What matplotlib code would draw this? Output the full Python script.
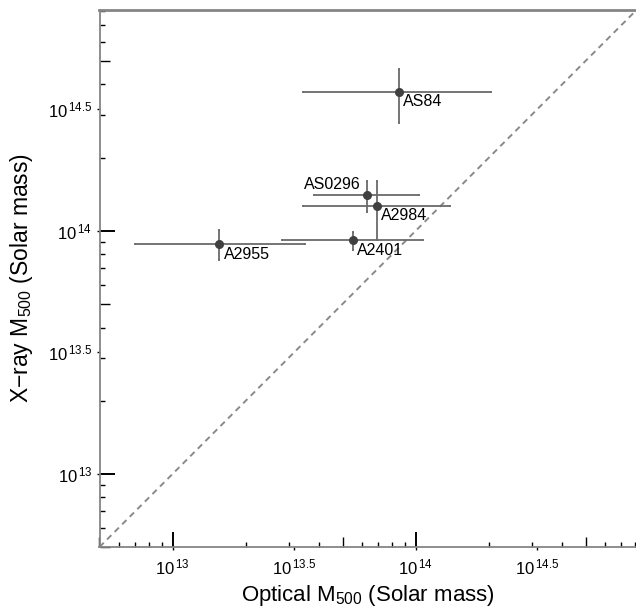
import numpy as np
import matplotlib
matplotlib.use('Agg')
import matplotlib.pyplot as plt
from matplotlib.ticker import FixedLocator, NullFormatter

plt.rcParams['font.family'] = 'Liberation Sans'
plt.rcParams['mathtext.fontset'] = 'custom'
plt.rcParams['mathtext.rm'] = 'Liberation Sans'
plt.rcParams['mathtext.it'] = 'Liberation Sans:italic'
plt.rcParams['mathtext.bf'] = 'Liberation Sans:bold'

# M500 estimates, in units of 1e14 solar masses
clusters = ['AS84', 'AS0296', 'A2984', 'A2401', 'A2955']
opt_m500 = np.array([0.85, 0.63, 0.69, 0.55, 0.155])
opt_low = np.array([0.345, 0.383, 0.344, 0.281, 0.0702])
opt_high = np.array([2.05, 1.035, 1.39, 1.076, 0.351])
xray_m500 = np.array([3.72, 1.40, 1.26, 0.914, 0.883])
xray_low = np.array([2.77, 1.20, 0.914, 0.837, 0.757])
xray_high = np.array([4.65, 1.60, 1.60, 0.986, 1.005])

# label placement: (dx, dy) offset in points, horizontal alignment
label_offsets = {'AS84': (3, -6.5, 'left'), 'AS0296': (-4.5, 7.5, 'right'),
                 'A2984': (3, -6.5, 'left'), 'A2401': (3.5, -7, 'left'),
                 'A2955': (3.5, -7.5, 'left')}

tick_vals = [1e13, 10**13.5, 1e14, 10**14.5]
tick_text = [r'$10^{\,13}$', r'$10^{\,13.5}$', r'$10^{\,14}$', r'$10^{\,14.5}$']
mass_lim = (5e12, 8.1e14)

x = opt_m500 * 1e14
y = xray_m500 * 1e14
xerr = np.vstack([x - opt_low * 1e14, opt_high * 1e14 - x])
yerr = np.vstack([y - xray_low * 1e14, xray_high * 1e14 - y])

fig = plt.figure(figsize=(6.36, 6.07), dpi=100)
ax = fig.add_axes([99.5 / 636, 60 / 607, 537 / 636, 537 / 607])
ax.set_xscale('log')
ax.set_yscale('log')
ax.set_xlim(*mass_lim)
ax.set_ylim(*mass_lim)

ax.axline((1e13, 1e13), (1e14, 1e14), color='#8a8a8a', lw=1.4,
          ls=(0, (3.1, 2.4)), zorder=1)

ax.errorbar(x, y, xerr=xerr, yerr=yerr, fmt='o', ms=5.5, color='#404040',
            ecolor='#6a6a6a', elinewidth=1.3, capsize=0.7, capthick=1.3,
            zorder=3)

for name, xi, yi in zip(clusters, x, y):
    dx, dy, ha = label_offsets[name]
    ax.annotate(name, (xi, yi), xytext=(dx, dy), textcoords='offset points',
                ha=ha, va='center', fontsize=11.5, color='black')

decades = 10.0 ** np.arange(12, 16)
fives = 5 * 10.0 ** np.arange(12, 15)
small = np.outer(10.0 ** np.arange(12, 15), [2, 3, 4, 6, 7, 8, 9]).ravel()

for axis in (ax.xaxis, ax.yaxis):
    axis.set_major_locator(FixedLocator(tick_vals))
    axis.set_ticklabels(tick_text)
    axis.set_minor_locator(FixedLocator(fives))
    axis.set_minor_formatter(NullFormatter())

ax.tick_params(which='major', direction='out', length=2.3, width=1,
               color='black', labelsize=12)
ax.tick_params(axis='x', which='major', pad=5)
ax.tick_params(axis='y', which='major', pad=3)
ax.tick_params(which='minor', direction='in', length=7.5, width=1,
               color='black')

# inner tick set: long ticks at decades, short ticks at the remaining integers
ident = (lambda v: v, lambda v: v)
secx = ax.secondary_xaxis('bottom', functions=ident)
secy = ax.secondary_yaxis('left', functions=ident)
for sec, axis in ((secx, secx.xaxis), (secy, secy.yaxis)):
    axis.set_major_locator(FixedLocator(decades))
    axis.set_minor_locator(FixedLocator(small))
    axis.set_major_formatter(NullFormatter())
    axis.set_minor_formatter(NullFormatter())
    sec.tick_params(which='major', direction='in', length=11, width=1.4,
                    color='black')
    sec.tick_params(which='minor', direction='in', length=3.6, width=1,
                    color='black')
    for sp in sec.spines.values():
        sp.set_visible(False)

for side in ('left', 'bottom'):
    ax.spines[side].set_color('#858585')
    ax.spines[side].set_linewidth(1.3)
ax.spines['top'].set_color('#858585')
ax.spines['top'].set_linewidth(2)
ax.spines['right'].set_visible(False)

ax.set_xlabel('Optical M$_{500}$ (Solar mass)', fontsize=16, labelpad=4)
ax.set_ylabel('X\u2212ray M$_{500}$ (Solar mass)', fontsize=16.5, labelpad=9)

fig.savefig('out.png', dpi=100)
